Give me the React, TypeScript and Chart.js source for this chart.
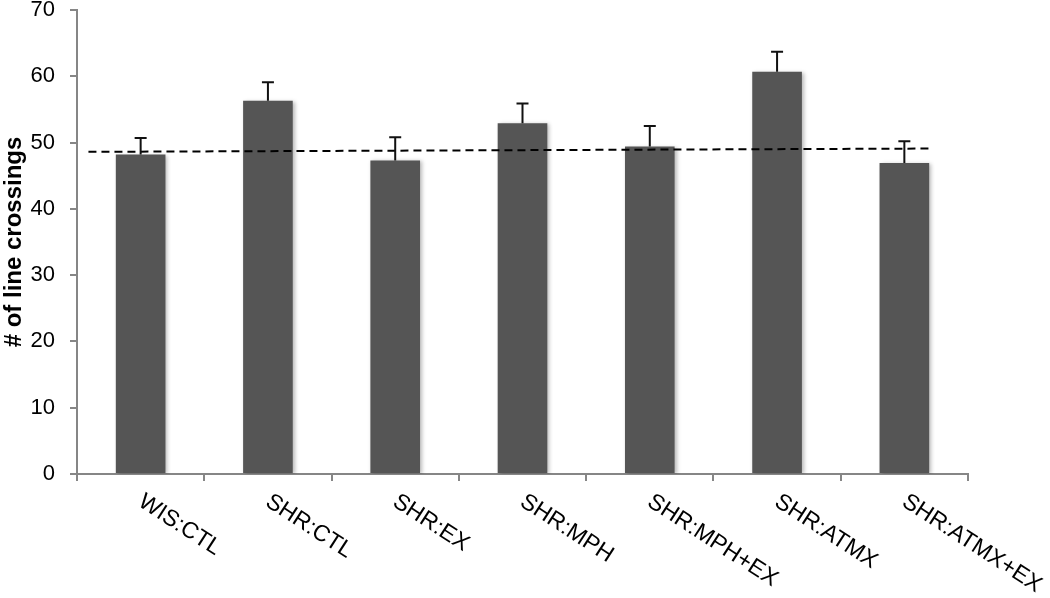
import React, { useEffect, useRef } from "react";
import { Chart, registerables } from "chart.js";

Chart.register(...registerables);

const categories = ["WIS:CTL", "SHR:CTL", "SHR:EX", "SHR:MPH", "SHR:MPH+EX", "SHR:ATMX", "SHR:ATMX+EX"];
const means = [48.2, 56.3, 47.3, 52.9, 49.4, 60.7, 46.9];
const errors = [2.5, 2.8, 3.5, 3.0, 3.1, 3.0, 3.3];
const trendX = [-0.41, 6.22];
const trendY = [48.6, 49.1];
const yMin = 0;
const yMax = 70;
const yStep = 10;
const yTitle = "# of line crossings";

const FONT = "'Liberation Sans', Arial, sans-serif";
const AXIS = "#868686";

const overlayPlugin = {
  id: "trendAndErrors",
  afterDatasetsDraw(chart: any) {
    const meta = chart.getDatasetMeta(0);
    const xs = chart.scales.x;
    const y = chart.scales.y;
    const ctx = chart.ctx;
    // dashed trend line
    ctx.save();
    ctx.strokeStyle = "#000";
    ctx.lineWidth = 2;
    ctx.setLineDash([8, 5]);
    ctx.beginPath();
    trendX.forEach((tx, i) => {
      const px = xs.getPixelForValue(tx);
      const py = y.getPixelForValue(trendY[i]);
      if (i === 0) ctx.moveTo(px, py);
      else ctx.lineTo(px, py);
    });
    ctx.stroke();
    ctx.restore();
    // error bars
    ctx.save();
    ctx.strokeStyle = "#111";
    ctx.lineWidth = 2;
    meta.data.forEach((bar: any, i: number) => {
      const top = y.getPixelForValue(means[i] + errors[i]);
      const base = y.getPixelForValue(means[i]);
      ctx.beginPath();
      ctx.moveTo(bar.x, base);
      ctx.lineTo(bar.x, top);
      ctx.moveTo(bar.x - 6, top);
      ctx.lineTo(bar.x + 6, top);
      ctx.stroke();
    });
    ctx.restore();
  },
};

const shadowPlugin = {
  id: "barShadow",
  beforeDatasetDraw(chart: any, args: any) {
    if (args.index !== 0) return;
    const ctx = chart.ctx;
    ctx.save();
    ctx.shadowColor = "rgba(0,0,0,0.28)";
    ctx.shadowBlur = 4;
    ctx.shadowOffsetX = 2;
    ctx.shadowOffsetY = 1;
  },
  afterDatasetDraw(chart: any, args: any) {
    if (args.index !== 0) return;
    chart.ctx.restore();
  },
};

const xLabelPlugin = {
  id: "slantedLabels",
  afterDraw(chart: any) {
    const xs = chart.scales.x;
    const ctx = chart.ctx;
    ctx.save();
    ctx.fillStyle = "#000";
    ctx.font = `23px ${FONT}`;
    ctx.textAlign = "left";
    ctx.textBaseline = "top";
    categories.forEach((lab, i) => {
      const cx = xs.getPixelForValue(i);
      ctx.save();
      ctx.translate(cx + 6, xs.top + 16);
      ctx.rotate((33 * Math.PI) / 180);
      ctx.fillText(lab, 0, 0);
      ctx.restore();
    });
    ctx.restore();
  },
};

export default function App() {
  const ref = useRef<HTMLCanvasElement | null>(null);
  useEffect(() => {
    if (!ref.current) return;
    const chart = new Chart(ref.current, {
      type: "bar",
      data: {
        labels: categories,
        datasets: [
          {
            data: means,
            backgroundColor: "#555555",
            barPercentage: 0.39,
            categoryPercentage: 1,
          } as any,
        ],
      },
      options: {
        animation: false,
        responsive: true,
        maintainAspectRatio: false,
        layout: { padding: { top: 10, right: 82, left: 0, bottom: 0 } },
        plugins: { legend: { display: false }, tooltip: { enabled: false } },
        scales: {
          x: {
            type: "category",
            offset: true,
            border: { display: true, color: AXIS, width: 2 },
            grid: { display: true, drawOnChartArea: false, drawTicks: true, tickLength: 7, color: AXIS, lineWidth: 2, offset: true },
            ticks: { display: false },
            afterFit: (s: any) => {
              s.height = 124;
              s.paddingLeft = 0;
              s.paddingRight = 0;
            },
          },
          y: {
            min: yMin,
            max: yMax,
            border: { display: true, color: AXIS, width: 2 },
            grid: { display: true, drawOnChartArea: false, drawTicks: true, tickLength: 7, color: AXIS, lineWidth: 2 },
            ticks: { stepSize: yStep, color: "#000", padding: 15, font: { family: FONT, size: 22 } },
            title: { display: true, text: yTitle, color: "#000", font: { family: FONT, size: 24, weight: "bold" }, padding: { top: 0, bottom: 0 } },
            afterFit: (s: any) => {
              s.width = 77;
              s.paddingTop = 0;
              s.paddingBottom = 0;
            },
          },
        },
      },
      plugins: [shadowPlugin, overlayPlugin, xLabelPlugin],
    });
    return () => chart.destroy();
  }, []);
  return (
    <div style={{ position: "fixed", left: 0, top: 0, width: 1050, height: 598, background: "#fff" }}>
      <canvas ref={ref} />
    </div>
  );
}
